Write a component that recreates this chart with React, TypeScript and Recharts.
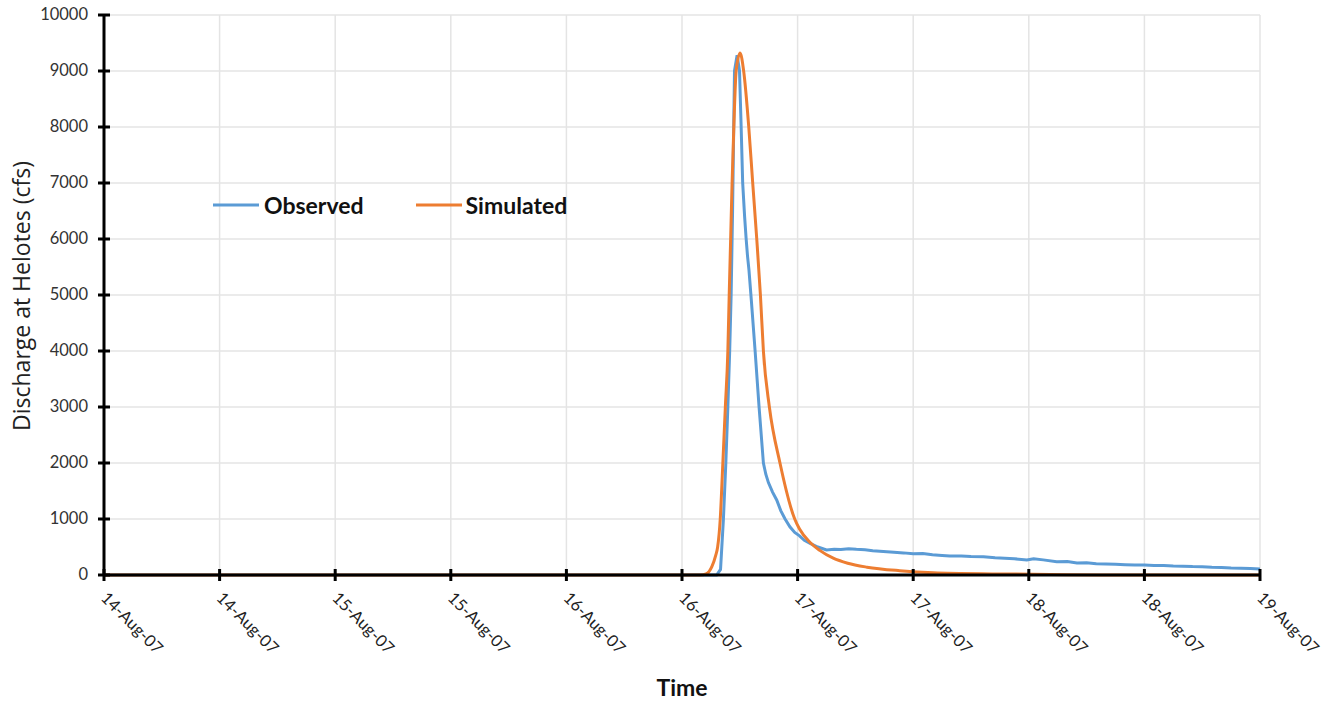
import { LineChart, Line, XAxis, YAxis, CartesianGrid, Legend } from "recharts";

// hours after 14-Aug-07 00:00
const obsHours = [
  0, 63.6, 64.0, 64.3, 64.55, 64.76, 64.95, 65.1, 65.25, 65.45, 65.72, 65.97, 66.14, 66.3, 66.5, 66.66,
  66.8, 66.95, 67.2, 67.59, 68.0, 68.45, 68.7, 68.97, 69.4, 69.83, 70.25, 70.7, 71.2, 71.7, 72.2, 72.7,
  73.3, 74.1, 75.0, 75.8, 76.5, 77.3, 78.1, 79, 79.8, 80.9, 82, 83, 84, 85, 86, 87, 87.8, 89, 90, 91.3,
  92.5, 93.5, 94.5, 95.8, 96.5, 97.5, 98.9, 100, 101, 102, 103, 104, 105, 106, 107, 108, 109, 110, 111,
  112, 113, 114, 115, 116, 117, 118, 119, 120,
];
const obsValues = [
  0, 0, 100, 1000, 2000, 3000, 4000, 5000, 6500, 9000, 9280, 9000, 8000, 7000, 6400, 6000,
  5700, 5450, 4900, 4000, 3000, 2000, 1800, 1650, 1480, 1340, 1150, 1000, 860, 760, 700, 620,
  566, 500, 446, 460, 455, 470, 458, 450, 435, 420, 405, 395, 380, 385, 360, 350, 339, 340, 330, 327,
  310, 300, 290, 268, 290, 270, 238, 240, 215, 220, 200, 195, 190, 185, 180, 178, 170, 168, 160,
  158, 150, 146, 138, 136, 126, 122, 115, 107,
];

const simHours = [
  0, 61.9, 62.5, 63.1, 63.5, 63.7, 63.97, 64.24, 64.5, 64.76, 64.9, 65.05, 65.2, 65.38, 65.62, 66.03,
  66.4, 66.93, 67.34, 67.76, 68.14, 68.45, 69.07, 70.17, 71.7, 72.2, 73.3, 74.3, 75.7, 77.2, 79.2, 82.6,
  86.1, 93, 100, 105, 120,
];
const simValues = [
  0, 0, 20, 150, 350, 500, 1000, 2000, 3000, 4000, 5000, 6000, 7000, 8000, 9000, 9320,
  9000, 8000, 7000, 6000, 5000, 4000, 3000, 2000, 1000, 820, 580, 440, 300, 210, 140, 77,
  41, 20, 5, 0, 0,
];

const xTicks = [0, 12, 24, 36, 48, 60, 72, 84, 96, 108, 120];
const xTickLabels = [
  "14-Aug-07", "14-Aug-07", "15-Aug-07", "15-Aug-07", "16-Aug-07", "16-Aug-07",
  "17-Aug-07", "17-Aug-07", "18-Aug-07", "18-Aug-07", "19-Aug-07",
];
const yTicks = [0, 1000, 2000, 3000, 4000, 5000, 6000, 7000, 8000, 9000, 10000];

const observed = obsHours.map((h, i) => ({ h, q: obsValues[i] }));
const simulated = simHours.map((h, i) => ({ h, q: simValues[i] }));

const FONT = "Lato, 'Open Sans', sans-serif";
const BLUE = "#5B9BD5";
const ORANGE = "#ED7D31";

const XTick = ({ x, y, payload }: any) => {
  const i = xTicks.indexOf(payload.value);
  return (
    <g>
      <line x1={x} x2={x} y1={y - 6} y2={y + 6} stroke="#000" strokeWidth={3} />
      <text
        x={x - 4}
        y={y + 24}
        transform={`rotate(45, ${x - 4}, ${y + 24})`}
        textAnchor="start"
        fontSize={16.5}
        fontFamily={FONT}
        fill="#222"
      >
        {xTickLabels[i]}
      </text>
    </g>
  );
};

const YTick = ({ x, y, payload }: any) => (
  <g>
    <line x1={x - 6} x2={x + 6} y1={y} y2={y} stroke="#000" strokeWidth={3} />
    <text x={x - 16} y={y + 5} textAnchor="end" fontSize={16.5} fontFamily={FONT} fill="#333">
      {payload.value}
    </text>
  </g>
);

const LegendBox = () => (
  <div style={{ display: "flex", alignItems: "center", fontFamily: FONT, fontWeight: 700, fontSize: 23, color: "#111", lineHeight: "28px" }}>
    <svg width={46} height={6} style={{ marginRight: 5 }}>
      <line x1={0} x2={46} y1={3} y2={3} stroke={BLUE} strokeWidth={3} />
    </svg>
    <span style={{ marginRight: 52 }}>Observed</span>
    <svg width={46} height={6} style={{ marginRight: 4 }}>
      <line x1={0} x2={46} y1={3} y2={3} stroke={ORANGE} strokeWidth={3} />
    </svg>
    <span>Simulated</span>
  </div>
);

export default function App() {
  return (
    <div style={{ position: "absolute", left: 0, top: 0, background: "#fff" }}>
      <LineChart width={1331} height={702} margin={{ top: 15, right: 71, left: 0, bottom: 47 }}>
        <CartesianGrid stroke="#e4e4e4" strokeWidth={1.5} />
        <XAxis
          dataKey="h"
          type="number"
          domain={[0, 120]}
          ticks={xTicks}
          allowDataOverflow
          height={80}
          tickSize={0}
          tickMargin={0}
          tickLine={false}
          axisLine={{ stroke: "#000", strokeWidth: 3 }}
          tick={<XTick />}
          interval={0}
          label={{
            content: () => (
              <text x={682} y={696} textAnchor="middle" fontSize={23} fontWeight={700} fontFamily={FONT} fill="#111">
                Time
              </text>
            ),
          }}
        />
        <YAxis
          type="number"
          domain={[0, 10000]}
          ticks={yTicks}
          width={104}
          tickSize={0}
          tickMargin={0}
          tickLine={false}
          axisLine={{ stroke: "#000", strokeWidth: 3 }}
          tick={<YTick />}
          interval={0}
          label={{
            content: () => (
              <text
                x={30}
                y={296}
                transform="rotate(-90, 30, 296)"
                textAnchor="middle"
                fontSize={23}
                fontFamily="'Open Sans', sans-serif"
                fill="#222"
              >
                Discharge at Helotes (cfs)
              </text>
            ),
          }}
        />
        <Legend
          layout="horizontal"
          verticalAlign="middle"
          align="center"
          wrapperStyle={{ position: "absolute", left: 213, top: 191, width: "auto" }}
          content={<LegendBox />}
        />
        <Line
          data={observed}
          dataKey="q"
          name="Observed"
          type="linear"
          stroke={BLUE}
          strokeWidth={3}
          dot={false}
          isAnimationActive={false}
        />
        <Line
          data={simulated}
          dataKey="q"
          name="Simulated"
          type="monotone"
          stroke={ORANGE}
          strokeWidth={3}
          dot={false}
          isAnimationActive={false}
        />
      </LineChart>
    </div>
  );
}
